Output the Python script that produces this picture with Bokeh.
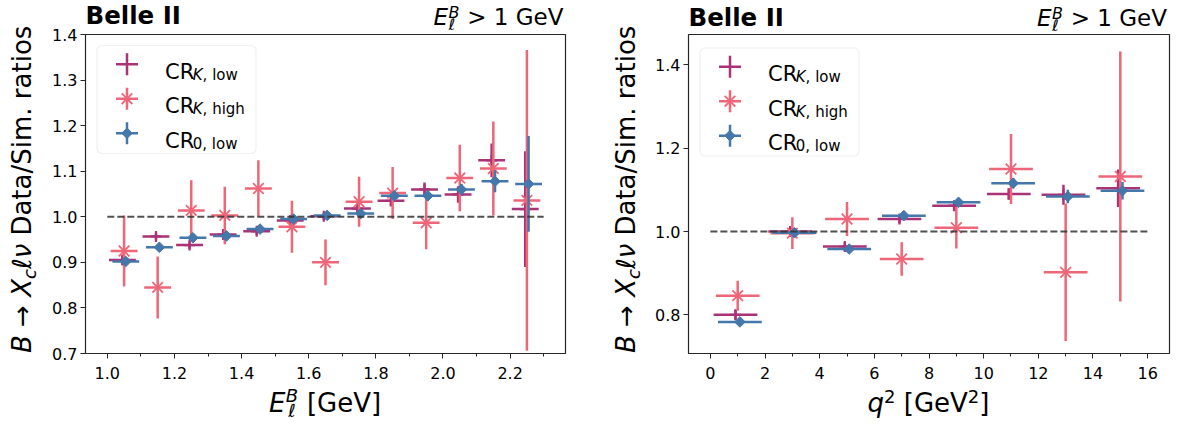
import math
from bokeh.plotting import figure
from bokeh.models import (Range1d, FixedTicker, PrintfTickFormatter, Label,
                          BoxAnnotation, ColumnDataSource, Div)
from bokeh.layouts import row, column
from bokeh.embed import file_html
from bokeh.resources import INLINE

# ------------------------------------------------------------------ data
# left panel: lepton energy bins (GeV)
e_centers = [1.05, 1.15, 1.25, 1.35, 1.45, 1.55, 1.65, 1.75, 1.85, 1.95, 2.05, 2.15, 2.25]
e_half = 0.04
e_k_low = [0.905, 0.957, 0.938, 0.961, 0.968, 0.992, 1.001, 1.018, 1.035, 1.060, 1.049, 1.124, 1.017]
e_k_low_err = [0.010, 0.008, 0.008, 0.008, 0.008, 0.008, 0.008, 0.010, 0.012, 0.015, 0.018, 0.037, 0.127]
e_k_high = [0.925, 0.845, 1.014, 1.003, 1.062, 0.978, 0.900, 1.033, 1.052, 0.987, 1.085, 1.106, 1.036]
e_k_high_err = [0.078, 0.068, 0.066, 0.063, 0.062, 0.057, 0.050, 0.055, 0.057, 0.058, 0.073, 0.103, 0.330]
e_zero_low = [0.902, 0.933, 0.954, 0.958, 0.973, 0.995, 1.003, 1.007, 1.046, 1.046, 1.060, 1.078, 1.072]
e_zero_low_err = [0.008, 0.008, 0.008, 0.008, 0.008, 0.008, 0.008, 0.008, 0.010, 0.010, 0.012, 0.024, 0.105]
e_ref_x = [1.0, 2.3]

# right panel: q^2 bins (GeV^2)
q_centers = [1, 3, 5, 7, 9, 11, 13, 15]
q_half = 0.8
q_k_low = [0.800, 1.000, 0.964, 1.030, 1.062, 1.090, 1.088, 1.104]
q_k_low_err = [0.012, 0.010, 0.010, 0.010, 0.012, 0.014, 0.024, 0.045]
q_k_high = [0.846, 0.996, 1.030, 0.934, 1.009, 1.150, 0.902, 1.132]
q_k_high_err = [0.036, 0.038, 0.041, 0.040, 0.050, 0.084, 0.165, 0.300]
q_zero_low = [0.783, 0.997, 0.958, 1.038, 1.070, 1.116, 1.084, 1.098]
q_zero_low_err = [0.010, 0.008, 0.008, 0.010, 0.010, 0.012, 0.016, 0.021]
q_ref_x = [0.0, 16.0]

ref_y = [1.0, 1.0]

# ticks
e_xticks = [1.0, 1.2, 1.4, 1.6, 1.8, 2.0, 2.2]
e_xminor = [1.1, 1.3, 1.5, 1.7, 1.9, 2.1, 2.3]
e_yticks = [0.7, 0.8, 0.9, 1.0, 1.1, 1.2, 1.3, 1.4]
q_xticks = [0, 2, 4, 6, 8, 10, 12, 14, 16]
q_xminor = [1, 3, 5, 7, 9, 11, 13, 15]
q_yticks = [0.8, 1.0, 1.2, 1.4]

# ------------------------------------------------------------------ style / layout
FONT = "DejaVu Sans"
C_KLOW = "#AA3377"
C_KHIGH = "#EE6677"
C_ZERO = "#4477AA"
AXC = "#262626"

TICK_PX = 16
LEG_PX = 21
LEG_SUB = 15

PAGE_W = 1178
TOP_H = 24            # band with "Belle II" texts (texts overflow into the figure border)
YL1_W, YL2_W = 40, 68  # bands with y-axis labels
BL, BR1, BR2, BT, BB = 45, 10, 8, 10, 34
FW1, FW2, FH = 480, 481, 319
BOT_H = 37

ADV = {' ': 651, ',': 651, 'C': 1430, 'R': 1423, 'K': 1343, 'B': 1405}


def tw(text, size):
    return sum(ADV.get(ch, 1250) for ch in text) / 2048.0 * size


def legend_text(p, pieces, x, y):
    s = 0.0
    for t, size, style, shift in pieces:
        p.add_layout(Label(x=x + s, y=y + shift, x_range_name="px", y_range_name="px",
                           text=t, text_font=FONT, text_font_size=f"{size}px",
                           text_font_style=style, text_color="black",
                           text_align="left", text_baseline="alphabetic"))
        s += tw(t, size) - (1.5 if t == "CR" else 0.0)


def make_panel(FW, xr, yr, br, xticks, xminor, yticks, xfmt, yfmt,
               centers, half, shift, series, ref_x, leg_dy):
    p = figure(frame_width=FW, frame_height=FH, x_range=Range1d(*xr), y_range=Range1d(*yr),
               output_backend="svg", toolbar_location=None,
               min_border_left=BL, min_border_right=br, min_border_top=BT,
               min_border_bottom=BB, background_fill_color="white",
               border_fill_color=None)
    p.title.visible = False
    p.extra_x_ranges = {"px": Range1d(0, FW)}
    p.extra_y_ranges = {"px": Range1d(FH, 0)}
    p.grid.visible = False
    p.outline_line_color = AXC
    p.outline_line_width = 1.2

    p.xaxis.ticker = FixedTicker(ticks=xticks, minor_ticks=xminor)
    p.yaxis.ticker = FixedTicker(ticks=yticks, minor_ticks=[])
    p.xaxis.formatter = PrintfTickFormatter(format=xfmt)
    p.yaxis.formatter = PrintfTickFormatter(format=yfmt)
    for ax in (p.xaxis, p.yaxis):
        ax.axis_line_color = AXC
        ax.major_tick_line_color = AXC
        ax.minor_tick_line_color = AXC
        ax.major_tick_out = 5
        ax.major_tick_in = 0
        ax.minor_tick_out = 3
        ax.minor_tick_in = 0
        ax.major_label_text_font = FONT
        ax.major_label_text_font_size = f"{TICK_PX}px"
        ax.major_label_text_color = "black"
    p.xaxis.major_label_standoff = 8
    p.yaxis.major_label_standoff = 3

    # legend frame (underneath everything)
    p.add_layout(BoxAnnotation(left=11.5, right=170.5, top=11.0 + leg_dy, bottom=119.0 + leg_dy,
                               x_range_name="px", y_range_name="px",
                               fill_color="white", fill_alpha=0.8,
                               line_color="#cfcfcf", line_width=1.2,
                               border_radius=5, level="underlay"))

    # data series
    for (vals, errs, color, marker), dx in zip(series, shift):
        xs = [c + dx for c in centers]
        src = ColumnDataSource(dict(
            x=xs, y=vals,
            xlo=[v - half for v in xs], xhi=[v + half for v in xs],
            ylo=[v - e for v, e in zip(vals, errs)],
            yhi=[v + e for v, e in zip(vals, errs)]))
        p.segment(x0="xlo", y0="y", x1="xhi", y1="y", source=src,
                  line_color=color, line_width=2.5)
        p.segment(x0="x", y0="ylo", x1="x", y1="yhi", source=src,
                  line_color=color, line_width=2.5)
        if marker == "cross":
            p.scatter(x="x", y="y", source=src, marker="cross", size=11,
                      line_color=color, line_width=2.2)
        elif marker == "x":
            p.scatter(x="x", y="y", source=src, marker="x", size=15,
                      line_color=color, line_width=1.8)
        else:
            p.scatter(x="x", y="y", source=src, marker="square", angle=math.pi / 4,
                      size=7.5, fill_color=color, line_color=color, line_width=1)

    p.line(ref_x, ref_y, line_dash="7 3", line_color="#333333", line_alpha=0.85,
           line_width=2)

    # legend entries
    leg_x, text_x = 41.5, 79.5
    rows = [29.7 + leg_dy, 64.2 + leg_dy, 98.7 + leg_dy]
    for (vals, errs, color, marker), ry in zip(series, rows):
        p.scatter(x=[leg_x], y=[ry], marker="cross", size=22, line_color=color,
                  line_width=2.5, x_range_name="px", y_range_name="px")
        if marker == "x":
            p.scatter(x=[leg_x], y=[ry], marker="x", size=15, line_color=color,
                      line_width=1.8, x_range_name="px", y_range_name="px")
        elif marker == "diamond":
            p.scatter(x=[leg_x], y=[ry], marker="square", angle=math.pi / 4, size=7.5,
                      fill_color=color, line_color=color,
                      x_range_name="px", y_range_name="px")
    subs = [[("K", LEG_SUB, "italic"), (", low", LEG_SUB, "normal")],
            [("K", LEG_SUB, "italic"), (", high", LEG_SUB, "normal")],
            [("0, low", LEG_SUB, "normal")]]
    for ry, sub in zip(rows, subs):
        pieces = [("CR", LEG_PX, "normal", 0)] + [(t, s, st, 3) for t, s, st in sub]
        legend_text(p, pieces, text_x, ry + 7.5)
    return p


e_series = [(e_k_low, e_k_low_err, C_KLOW, "cross"),
            (e_k_high, e_k_high_err, C_KHIGH, "x"),
            (e_zero_low, e_zero_low_err, C_ZERO, "diamond")]
q_series = [(q_k_low, q_k_low_err, C_KLOW, "cross"),
            (q_k_high, q_k_high_err, C_KHIGH, "x"),
            (q_zero_low, q_zero_low_err, C_ZERO, "diamond")]

p1 = make_panel(FW1, (0.935, 2.365), (0.7, 1.4), BR1,
                e_xticks, e_xminor, e_yticks, "%.1f", "%.1f",
                e_centers, e_half, [-0.005, 0.0, 0.005], e_series, e_ref_x, 0.0)
p2 = make_panel(FW2, (-0.8, 16.8), (0.7072, 1.4728), BR2,
                q_xticks, q_xminor, q_yticks, "%d", "%.1f",
                q_centers, q_half, [-0.08, 0.0, 0.08], q_series, q_ref_x, 2.5)

# ------------------------------------------------------------------ texts outside the frames (HTML)
FF = "font-family:'DejaVu Sans',sans-serif;line-height:1.164;white-space:nowrap;color:#000;"
ASC = 0.928
F1_LEFT = YL1_W + BL                      # page x of left frame
F2_LEFT = YL1_W + BL + FW1 + BR1 + YL2_W + BL   # page x of right frame
FRAME_TOP = TOP_H + BT
FRAME_BOT = FRAME_TOP + FH


def abs_text(html, size, baseline, left=None, right=None, center=None, weight="normal"):
    top = baseline - ASC * size
    if left is not None:
        pos = f"left:{left}px;"
    elif right is not None:
        pos = f"right:{right}px;"
    else:
        pos = f"left:{center - 250}px;width:500px;text-align:center;"
    return (f'<div style="position:absolute;top:{top:.2f}px;{pos}font-size:{size}px;'
            f'font-weight:{weight};{FF}">{html}</div>')


def shifted(t, size, dy, italic=True):
    st = f"font-size:{size}px;position:relative;top:{dy}px;"
    if italic:
        st += "font-style:italic;"
    return f'<span style="{st}">{t}</span>'


def stack(sup, sub, size, sup_dy, sub_dy):
    """superscript stacked over subscript, as one text node"""
    gap = sub_dy - sup_dy
    first_base = (gap - 1.164 * size) / 2.0 + ASC * size
    top = sup_dy - first_base
    w = tw(sup, size) + 1.0
    inner = (f'<span style="position:absolute;left:0.5px;top:{top:.2f}px;white-space:pre;'
             f'font-style:italic;font-size:{size}px;line-height:{gap}px;">{sup}\n{sub}</span>')
    return (f'<span style="position:relative;display:inline-block;width:{w:.1f}px;height:0;">'
            f'{inner}</span>')


def box(w, h, inner):
    return f'<div style="position:relative;width:{w}px;height:{h}px;overflow:visible;">{inner}</div>'


cut_html = "<i>E</i>" + stack("B", "ℓ", 16, -6.5, 5.5) + " &gt; 1 GeV"
top_inner = (
    abs_text("Belle II", 24.5, 25.0, left=F1_LEFT + 0.5, weight="bold")
    + abs_text("Belle II", 24.5, 26.7, left=F2_LEFT + 0.5, weight="bold")
    + abs_text(cut_html, 23, 25.0, right=PAGE_W - (F1_LEFT + FW1 - 1.5))
    + abs_text(cut_html, 23, 26.7, right=PAGE_W - (F2_LEFT + FW2 - 2.0))
)
top_div = Div(text=box(PAGE_W, TOP_H, top_inner), width=PAGE_W, height=TOP_H, margin=0,
              styles={"overflow": "visible", "z-index": "2"})

ylab_inner = ("<i>B</i> → <i>X</i>" + shifted("c", 18, 5) + "<i>ℓν</i> Data/Sim. ratios")


def ylab_div(width, baseline_x):
    left = baseline_x - ASC * 26
    top = FRAME_BOT - TOP_H
    inner = (f'<div style="position:absolute;left:{left:.2f}px;top:{top}px;width:{FH}px;'
             f'text-align:center;transform:rotate(-90deg);transform-origin:0 0;'
             f'font-size:26px;{FF}">{ylab_inner}</div>')
    h = BT + FH + BB
    return Div(text=box(width, h, inner), width=width, height=h, margin=0)


yl1 = ylab_div(YL1_W, 31.5)
yl2 = ylab_div(YL2_W, 635.0 - (YL1_W + BL + FW1 + BR1))

xl1_html = "<i>E</i>" + stack("B", "ℓ", 18, -8.7, 5.6) + " [GeV]"
xl2_html = ("<i>q</i>" + shifted("2", 18, -8.7, italic=False)
            + " [GeV" + shifted("2", 18, -8.7, italic=False) + "]")
bot_top = TOP_H + BT + FH + BB
bl_base = 411.7 - bot_top
bot_inner = (abs_text(xl1_html, 26, bl_base, center=F1_LEFT + FW1 / 2.0)
             + abs_text(xl2_html, 26, bl_base, center=F2_LEFT + FW2 / 2.0))
bot_div = Div(text=box(PAGE_W, BOT_H, bot_inner), width=PAGE_W, height=BOT_H, margin=0)

layout = column(top_div, row(yl1, p1, yl2, p2), bot_div)
open("out.html", "w").write(file_html(layout, INLINE))
